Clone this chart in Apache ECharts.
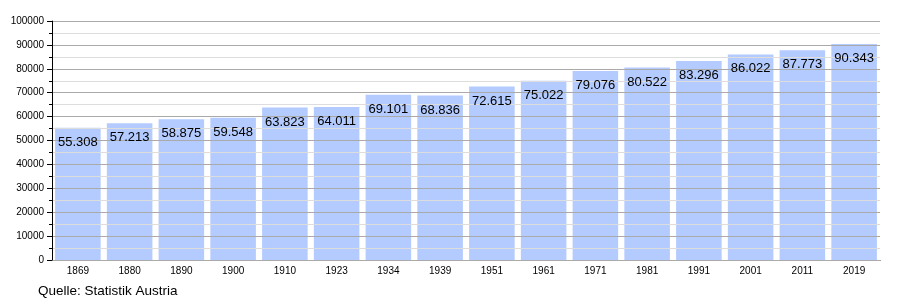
<!DOCTYPE html>
<html><head><meta charset="utf-8">
<script src="https://cdn.jsdelivr.net/npm/echarts@6/dist/echarts.min.js"></script>
<style>html,body{margin:0;padding:0;background:#fff}#c{width:900px;height:300px}</style>
</head><body><div id="c"></div>
<script>
const years = ['1869','1880','1890','1900','1910','1923','1934','1939','1951','1961','1971','1981','1991','2001','2011','2019'];
const population = [55308,57213,58875,59548,63823,64011,69101,68836,72615,75022,79076,80522,83296,86022,87773,90343];
const sourceText = 'Quelle: Statistik Austria';
const fmt = v => String(v).replace(/\B(?=(\d{3})+(?!\d))/g, '.');
const chart = echarts.init(document.getElementById('c'), null, {renderer:'canvas'});
chart.setOption({
  animation:false,
  textStyle:{fontFamily:'Liberation Sans, Arial, sans-serif'},
  grid:{left:52,right:20,top:21,bottom:40},
  graphic:[{type:'text',left:38,top:284,style:{text:sourceText,font:'13.5px Liberation Sans, Arial, sans-serif',fill:'#000'}}],
  xAxis:{type:'category',data:years,
    axisLine:{lineStyle:{color:'#000',width:1}},
    axisTick:{show:false},
    axisLabel:{color:'#000',fontSize:10,margin:6}},
  yAxis:{type:'value',min:0,max:100000,interval:10000,z:10,
    axisLine:{show:true,lineStyle:{color:'#000'}},
    axisTick:{show:true,length:5,lineStyle:{color:'#000'}},
    minorTick:{show:true,splitNumber:2,length:3,lineStyle:{color:'#000'}},
    splitLine:{show:true,lineStyle:{color:'#aaaaaa',width:1}},
    minorSplitLine:{show:true,lineStyle:{color:'#dddddd',width:1}},
    axisLabel:{color:'#000',fontSize:10,margin:8,formatter:v=>String(v)}},
  series:[
    {type:'bar',data:population,barCategoryGap:'12%',z:2,
      itemStyle:{color:'#b3cbff'}},
    {type:'bar',data:population,barCategoryGap:'12%',barGap:'-100%',z:20,
      itemStyle:{color:'rgba(0,0,0,0)'},
      label:{show:true,position:'insideTop',distance:8,color:'#000',fontSize:13,formatter:p=>fmt(p.value)}}
  ]
});
</script></body></html>
